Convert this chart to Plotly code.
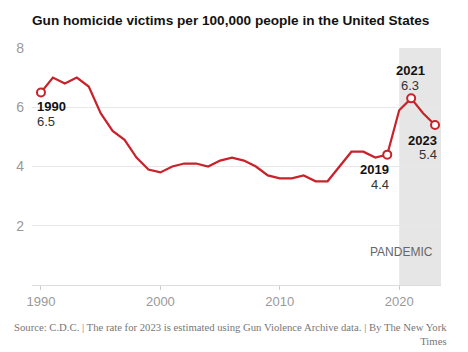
import plotly.graph_objects as go

years = list(range(1990, 2024))
rates = [6.5, 7.0, 6.8, 7.0, 6.7, 5.8, 5.2, 4.9, 4.3, 3.9,
         3.8, 4.0, 4.1, 4.1, 4.0, 4.2, 4.3, 4.2, 4.0, 3.7,
         3.6, 3.6, 3.7, 3.5, 3.5, 4.0, 4.5, 4.5, 4.3, 4.4,
         5.9, 6.3, 5.8, 5.4]
highlight_years = [1990, 2019, 2021, 2023]
y_ticks = [2, 4, 6, 8]
x_ticks = [1990, 2000, 2010, 2020]
pandemic_start = 2020
x_range = [1989.25, 2023.5]
y_range = [0, 8]

W, H = 468, 352
ML, MR, MT, MB = 32, 27, 48, 67
PW, PH = W - ML - MR, H - MT - MB

def px_x(px):
    return (px - ML) / PW

def px_y(py):
    return (H - MB - py) / PH

RED = "#c8222b"
sans = "Liberation Sans, Arial, sans-serif"

hl_rates = [rates[years.index(y)] for y in highlight_years]

fig = go.Figure()
fig.add_trace(go.Scatter(x=years, y=rates, mode="lines",
                         line=dict(color=RED, width=2.2), hoverinfo="skip"))
fig.add_trace(go.Scatter(x=highlight_years, y=hl_rates, mode="markers",
                         marker=dict(size=8, color="white",
                                     line=dict(color=RED, width=2)),
                         hoverinfo="skip"))

fig.add_shape(type="rect", xref="x", yref="y", x0=pandemic_start, x1=x_range[1],
              y0=y_range[0], y1=y_range[1], fillcolor="#e6e6e6",
              line=dict(width=0), layer="below")

ann = []
def label(year, dx, dy_year, dy_val, anchor):
    v = rates[years.index(year)]
    ann.append(dict(x=year, y=v, xref="x", yref="y", text="<b>%d</b>" % year,
                    showarrow=False, xanchor=anchor, yanchor="middle",
                    xshift=dx, yshift=dy_year,
                    font=dict(family=sans, size=13, color="#121212")))
    ann.append(dict(x=year, y=v, xref="x", yref="y", text="%.1f" % v,
                    showarrow=False, xanchor=anchor, yanchor="middle",
                    xshift=dx, yshift=dy_val,
                    font=dict(family=sans, size=13, color="#333333")))

label(1990, -6, -14, -29, "left")
label(2021, -1, 28, 13, "center")
label(2019, 4, -15, -30, "right")
label(2023, 4, -15, -29, "right")

ann.append(dict(x=x_range[1], y=1.1, xref="x", yref="y", text="PANDEMIC",
                showarrow=False, xanchor="right", yanchor="middle", xshift=-6,
                font=dict(family=sans, size=12, color="#666666")))

ann.append(dict(x=px_x(30), y=px_y(20), xref="paper", yref="paper",
                text="<b>Gun homicide victims per 100,000 people in the United States</b>",
                showarrow=False, xanchor="left", yanchor="middle",
                font=dict(family=sans, size=13.6, color="#121212")))

ann.append(dict(x=px_x(449), y=px_y(334), xref="paper", yref="paper",
                text="Source: C.D.C. | The rate for 2023 is estimated using Gun Violence Archive data. | By The New York<br>Times",
                showarrow=False, xanchor="right", yanchor="middle", align="right",
                font=dict(family="Liberation Serif, Times New Roman, serif",
                          size=10.7, color="#777777")))

fig.update_layout(
    width=W, height=H,
    margin=dict(l=ML, r=MR, t=MT, b=MB),
    paper_bgcolor="white", plot_bgcolor="white",
    showlegend=False,
    annotations=ann,
    xaxis=dict(range=x_range, tickvals=x_ticks, showgrid=False,
               showline=True, linecolor="#dddddd", linewidth=1,
               ticks="outside", ticklen=4, tickcolor="#cccccc",
               tickfont=dict(family=sans, size=13, color="#999999"),
               zeroline=False, fixedrange=True),
    yaxis=dict(range=y_range, tickvals=y_ticks, showgrid=True,
               gridcolor="#e8e8e8", gridwidth=1, zeroline=False,
               ticks="", ticklabelstandoff=7,
               tickfont=dict(family=sans, size=14, color="#999999"),
               fixedrange=True),
)

fig.write_html("out.html")
